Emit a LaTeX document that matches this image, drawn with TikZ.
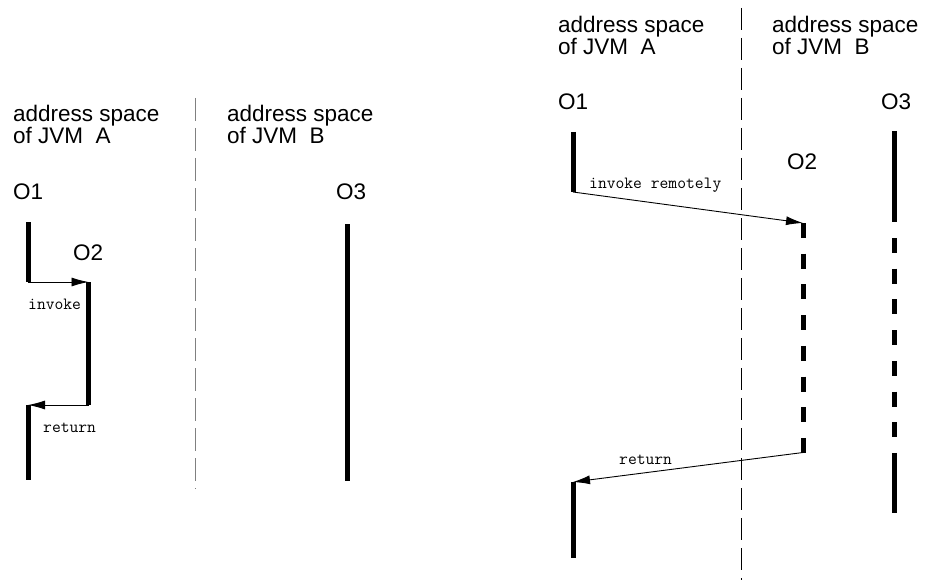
\documentclass[tikz,border=0pt]{standalone}
\usepackage{fontspec}
\setmainfont{Liberation Sans}
\usetikzlibrary{arrows.meta}
\begin{document}
\begin{tikzpicture}[x=1pt,y=-1pt,
  lbl/.style={font=\fontsize{22.5}{21}\selectfont, anchor=base west, inner sep=0pt},
  msg/.style={font=\ttfamily\fontsize{17.1}{17}\selectfont, anchor=base west, inner sep=0pt},
  life/.style={line width=5pt},
  lifedash/.style={line width=5pt, dash pattern=on 15pt off 15.7pt},
  call/.style={line width=0.9pt, -{Latex[length=17pt,width=9pt]}},
  divgray/.style={draw=gray, line width=1.5pt, dash pattern=on 23pt off 7pt},
  divblack/.style={draw=black, line width=1pt, dash pattern=on 22pt off 8pt}]
\useasboundingbox (0,0) rectangle (925,580);

% ---------------- left diagram ----------------
\node[lbl] (lA1) at (13,122) {address space};
\node[lbl] (lA2) at (13,144) {of JVM\ \ A};
\node[lbl] (lB1) at (227,122) {address space};
\node[lbl] (lB2) at (227,144) {of JVM\ \ B};
\node[lbl] (lO1) at (13,199) {O1};
\node[lbl] (lO2) at (73,260) {O2};
\node[lbl] (lO3) at (336,199) {O3};

\coordinate (ldivT) at (195.7,98);
\coordinate (ldivB) at (195.7,489);
\draw[divgray] (ldivT) -- (ldivB);

\coordinate (lo1a) at (28,222);
\coordinate (lo1b) at (28,282);
\coordinate (lo1c) at (28,405);
\coordinate (lo1d) at (28,480);
\coordinate (lo2a) at (88.5,282);
\coordinate (lo2b) at (88.5,405);
\coordinate (lo3a) at (347.7,224);
\coordinate (lo3b) at (347.7,481);

\draw[life] (lo1a) -- (lo1b);
\draw[life] (lo1c) -- (lo1d);
\draw[life] (lo2a) -- (lo2b);
\draw[life] (lo3a) -- (lo3b);

\draw[call] (lo1b) -- (lo2a);
\draw[call] (lo2b) -- (lo1c);
\node[msg] (linv) at (28,309) {invoke};
\node[msg] (lret) at (43,432) {return};

% ---------------- right diagram ----------------
\node[lbl] (rA1) at (558,33) {address space};
\node[lbl] (rA2) at (558,55) {of JVM\ \ A};
\node[lbl] (rB1) at (772,33) {address space};
\node[lbl] (rB2) at (772,55) {of JVM\ \ B};
\node[lbl] (rO1) at (558,110) {O1};
\node[lbl] (rO2) at (787,170) {O2};
\node[lbl] (rO3) at (881,110) {O3};

\coordinate (rdivT) at (741.7,8);
\coordinate (rdivB) at (741.7,580);
\draw[divblack] (rdivT) -- (rdivB);

\coordinate (ro1a) at (573,132);
\coordinate (ro1b) at (573,192);
\coordinate (ro1c) at (573,482);
\coordinate (ro1d) at (573,558);
\coordinate (ro2a) at (803,223);
\coordinate (ro2b) at (803,452.5);
\coordinate (ro3a) at (894,131);
\coordinate (ro3b) at (894,222);
\coordinate (ro3c) at (894,238);
\coordinate (ro3d) at (894,467);
\coordinate (ro3e) at (894,513);

\draw[life] (ro1a) -- (ro1b);
\draw[life] (ro1c) -- (ro1d);
\draw[lifedash] (ro2a) -- (ro2b);
\draw[life] (ro3a) -- (ro3b);
\draw[lifedash] (ro3c) -- (ro3d);
\draw[life] (ro3d) -- (ro3e);

\draw[call] (ro1b) -- (ro2a);
\draw[call] (ro2b) -- (ro1c);
\node[msg] (rinv) at (589,188) {invoke remotely};
\node[msg] (rret) at (619,464) {return};
\end{tikzpicture}
\end{document}
